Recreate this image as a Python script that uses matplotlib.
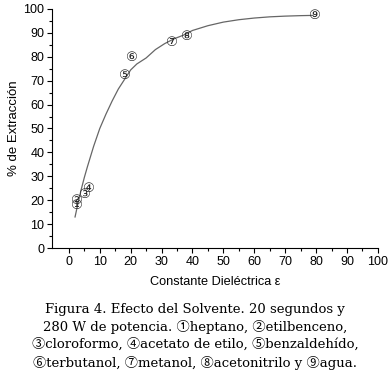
import matplotlib.pyplot as plt
import numpy as np

# solvent points: dielectric constant vs % extraction
eps = [2.2, 2.3, 4.9, 6.2, 17.9, 20.1, 32.9, 37.8, 79.2]
extr = [17.7, 20.0, 22.6, 24.8, 72.2, 79.8, 85.9, 88.4, 97.2]
labels = ["①", "②", "③", "④", "⑤", "⑥", "⑦", "⑧", "⑨"]

# fitted curve
fit_x = [2, 3, 4, 5, 6, 8, 10, 12, 14, 16, 18, 20, 22, 25, 28, 31, 34, 37, 40,
         45, 50, 55, 60, 65, 70, 75, 79]
fit_y = [13, 19, 24.5, 29.5, 34, 42.5, 50, 56, 61.5, 66.5, 70.5, 74.5, 77, 79.5, 83,
         85.5, 87.5, 89, 91, 93, 94.5, 95.5, 96.2, 96.7, 97, 97.2, 97.3]

caption = ("Figura 4. Efecto del Solvente. 20 segundos y\n"
           "280 W de potencia. ①heptano, ②etilbenceno,\n"
           "③cloroformo, ④acetato de etilo, ⑤benzaldehído,\n"
           "⑥terbutanol, ⑦metanol, ⑧acetonitrilo y ⑨agua.")

plt.rcParams["font.family"] = ["Liberation Sans", "DejaVu Sans", "Noto Sans CJK JP"]

fig = plt.figure(figsize=(3.9, 3.73), dpi=100)
ax = fig.add_axes([0.133, 0.335, 0.836, 0.641])

ax.plot(fit_x, fit_y, color="#666666", linewidth=0.9)
for x, y, t in zip(eps, extr, labels):
    ax.text(x, y, t, ha="center", va="center", fontsize=9.5,
            family=["DejaVu Sans", "Noto Sans CJK JP"], color="#222222")

ax.set_xlim(-5.5, 100)
ax.set_ylim(0, 100)
ax.set_xticks(np.arange(0, 101, 10))
ax.set_yticks(np.arange(0, 101, 10))
ax.set_xticks(np.arange(5, 100, 10), minor=True)
ax.set_yticks(np.arange(5, 100, 10), minor=True)
ax.tick_params(which="major", direction="out", length=3.5, width=0.8, labelsize=9, pad=2)
ax.tick_params(which="minor", direction="out", length=2, width=0.8)
ax.spines["top"].set_visible(False)
ax.spines["right"].set_visible(False)
ax.set_xlabel("Constante Dieléctrica ε", fontsize=9.2, labelpad=6)
ax.set_ylabel("% de Extracción", fontsize=9.5, labelpad=2)

fig.text(0.5, 0.099, caption, ha="center", va="center", fontsize=9.55,
         family=["DejaVu Serif", "Noto Sans CJK JP"], linespacing=1.4)

fig.savefig("out.png", dpi=100)
